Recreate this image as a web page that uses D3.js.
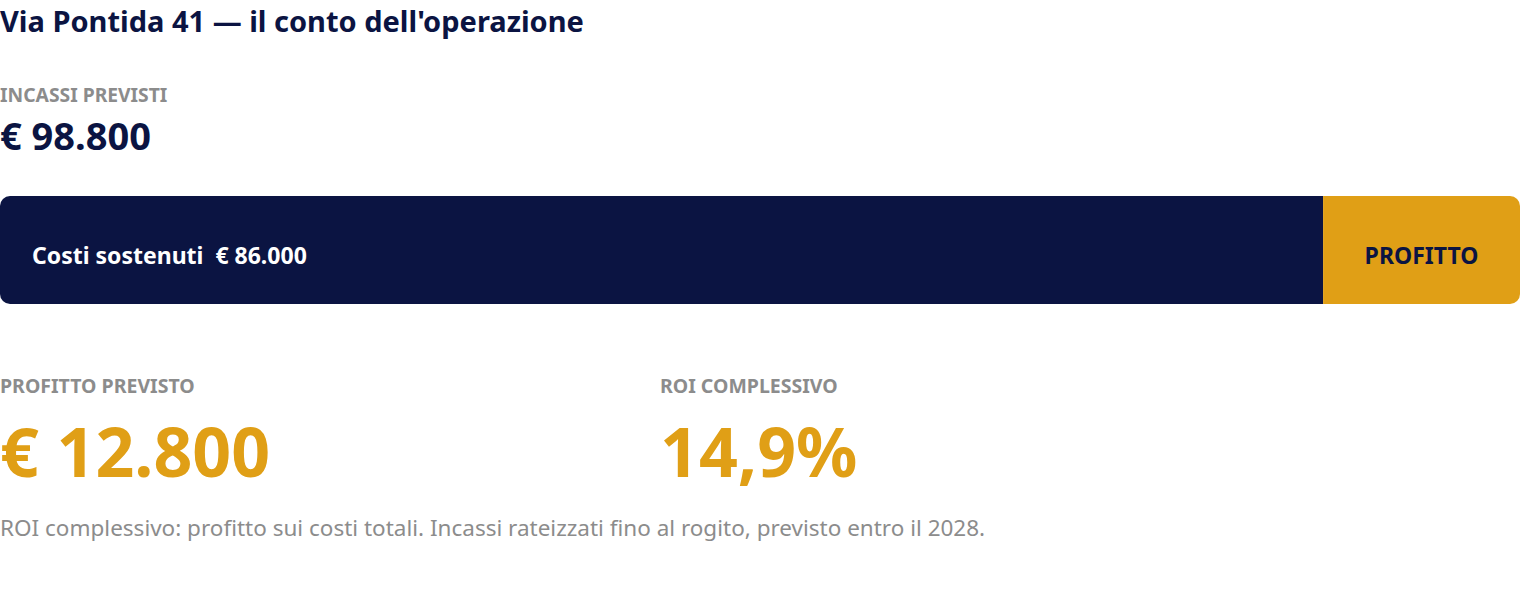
<!DOCTYPE html>
<html>
<head>
<meta charset="utf-8">
<script src="https://cdn.jsdelivr.net/npm/d3@7"></script>
<style>
 html,body{margin:0;padding:0;background:#fff;}
 svg{display:block;font-family:"Noto Sans",sans-serif;}
 text{white-space:pre;}
</style>
</head>
<body>
<svg id="chart" width="1520" height="600"></svg>
<script>
// dati dell'operazione
var titolo = "Via Pontida 41 \u2014 il conto dell'operazione";
var voci = ["Costi sostenuti", "Profitto"];
var importi = [86000, 12800];
var etichetteBarra = ["Costi sostenuti  \u20ac 86.000", "PROFITTO"];
var incassi = 98800;
var roi = 14.9;
var nota = "ROI complessivo: profitto sui costi totali. Incassi rateizzati fino al rogito, previsto entro il 2028.";

var W = 1520, navy = "#0b1442", gold = "#e09f16", grey = "#8c8c8c";
var it = d3.formatLocale({decimal: ",", thousands: ".", grouping: [3], currency: ["\u20ac ", ""]});
var euro = it.format("$,.0f"), pct = it.format(".1f");

var svg = d3.select("#chart");

svg.append("text").attr("x", 0).attr("y", 32)
 .attr("font-size", 29).attr("font-weight", 700).attr("fill", navy).text(titolo);

svg.append("text").attr("x", 0).attr("y", 102)
 .attr("font-size", 19.3).attr("font-weight", 700).attr("fill", grey).text("INCASSI PREVISTI");
svg.append("text").attr("x", 0).attr("y", 150)
 .attr("font-size", 38).attr("font-weight", 700).attr("fill", navy).text(euro(incassi));

// barra
var x = d3.scaleLinear().domain([0, incassi]).range([0, W]);
var stack = [];
var acc = 0;
importi.forEach(function(v, i) { stack.push({k: voci[i], x0: acc, x1: acc + v, lab: etichetteBarra[i]}); acc += v; });

var barY = 196, barH = 108;
var clip = svg.append("defs").append("clipPath").attr("id", "bar");
clip.append("rect").attr("x", 0).attr("y", barY).attr("width", W).attr("height", barH).attr("rx", 10);

var g = svg.append("g").attr("clip-path", "url(#bar)");
g.selectAll("rect").data(stack).enter().append("rect")
 .attr("x", function(d) { return x(d.x0); })
 .attr("width", function(d) { return x(d.x1) - x(d.x0); })
 .attr("y", barY).attr("height", barH)
 .attr("fill", function(d, i) { return i === 0 ? navy : gold; });

svg.selectAll("text.seg").data(stack).enter().append("text").attr("class", "seg")
 .attr("x", function(d, i) { return i === 0 ? x(d.x0) + 32 : (x(d.x0) + x(d.x1)) / 2; })
 .attr("y", 264)
 .attr("text-anchor", function(d, i) { return i === 0 ? "start" : "middle"; })
 .attr("font-size", 23).attr("font-weight", 700)
 .attr("fill", function(d, i) { return i === 0 ? "#fff" : navy; })
 .text(function(d) { return d.lab; });

// indicatori
var kpi = [
 {lab: "PROFITTO PREVISTO", val: euro(importi[1]), x: 0},
 {lab: "ROI COMPLESSIVO", val: pct(roi) + "%", x: 660}
];
var k = svg.selectAll("g.kpi").data(kpi).enter().append("g").attr("class", "kpi");
k.append("text").attr("x", function(d) { return d.x; }).attr("y", 393)
 .attr("font-size", 19.5).attr("font-weight", 700).attr("fill", grey).text(function(d) { return d.lab; });
k.append("text").attr("x", function(d) { return d.x; }).attr("y", 477)
 .attr("font-size", 68).attr("font-weight", 700).attr("fill", gold).text(function(d) { return d.val; });

svg.append("text").attr("x", 0).attr("y", 536)
 .attr("font-size", 22.5).attr("fill", grey).text(nota);
</script>
</body>
</html>
